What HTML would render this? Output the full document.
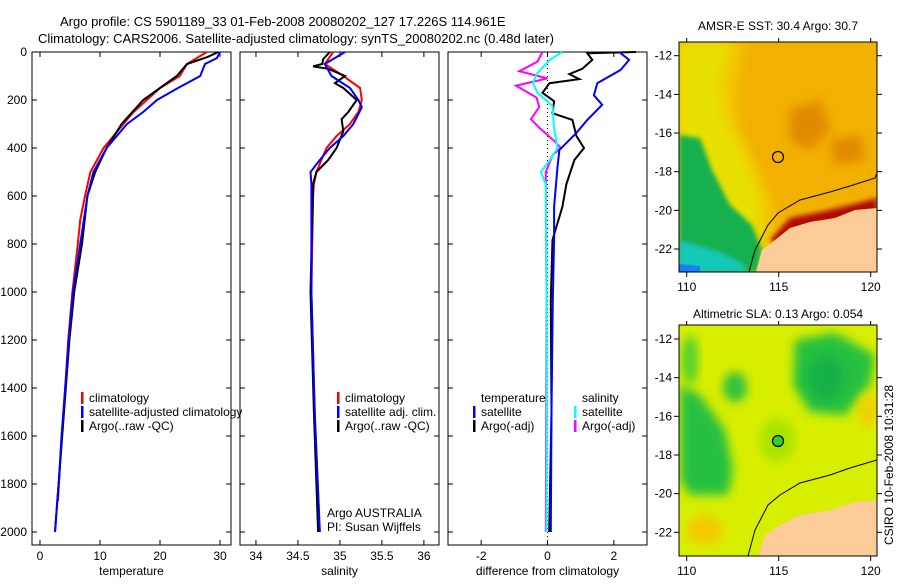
<!DOCTYPE html>
<html><head><meta charset="utf-8"><style>
body{margin:0;background:#fff;width:900px;height:580px;overflow:hidden}
svg text{font-family:"Liberation Sans",sans-serif;fill:#000}
</style></head><body>
<svg id="fig" width="900" height="580" xmlns="http://www.w3.org/2000/svg">
<defs>
<filter id="bl" x="-30%" y="-30%" width="160%" height="160%"><feGaussianBlur stdDeviation="5"/></filter>
<filter id="bl2"><feGaussianBlur stdDeviation="2.5"/></filter>
<clipPath id="c1"><rect x="679" y="42" width="198" height="230"/></clipPath>
<clipPath id="c2"><rect x="679" y="325" width="198" height="231"/></clipPath>
</defs>
<text x="60" y="26" font-size="13">Argo profile: CS 5901189_33 01-Feb-2008 20080202_127 17.226S 114.961E</text>
<text x="38" y="43" font-size="13">Climatology: CARS2006. Satellite-adjusted climatology: synTS_20080202.nc (0.48d later)</text>
<g id="panels"></g>
<!-- SST map -->
<g clip-path="url(#c1)">
<rect x="679" y="42" width="198" height="230" fill="#f2b000"/>
<path d="M679,42 L745,42 L735,90 L740,130 L760,170 L775,210 L770,272 L679,272Z" fill="#f2c800" filter="url(#bl)"/>
<path d="M679,42 L730,42 L720,80 L725,120 L745,160 L760,200 L760,272 L679,272Z" fill="#e8e000" filter="url(#bl)"/>
<path d="M790,110 L820,100 L830,130 L810,150 L790,140Z" fill="#e08a00" filter="url(#bl)"/>
<path d="M830,140 L860,135 L865,160 L835,165Z" fill="#e08a00" filter="url(#bl)"/>
<path d="M679,135 L700,138 L712,170 L730,205 L752,225 L762,250 L758,272 L679,272Z" fill="#18b050" filter="url(#bl2)"/>
<path d="M679,240 L720,252 L745,265 L745,272 L679,272Z" fill="#18c8b8" filter="url(#bl2)"/>
<path d="M679,264 L700,266 L700,272 L679,272Z" fill="#1880f0"/>
<path d="M770,240 L790,218 L820,212 L850,205 L877,198 L877,220 L820,230 L785,250Z" fill="#b01000" filter="url(#bl2)"/>
<path d="M756,272 L762,250 L775,240 L790,228 L810,222 L835,218 L855,210 L877,208 L877,272Z" fill="#fbcb98"/>
<path d="M749,272 L755,250 L768,225 L778,213 L800,200 L830,192 L850,186 L875,178 L877,173" fill="none" stroke="#000" stroke-width="1"/>
<circle cx="778" cy="157" r="5.5" fill="none" stroke="#000" stroke-width="1.2"/>
</g>
<rect x="679" y="42" width="198" height="230" fill="none" stroke="#000"/>
<text x="778" y="30" font-size="12" text-anchor="middle">AMSR-E SST: 30.4 Argo: 30.7</text>
<!-- SLA map -->
<g clip-path="url(#c2)">
<rect x="679" y="325" width="198" height="231" fill="#d8ee00"/>
<path d="M795,340 L835,333 L875,355 L870,385 L845,415 L810,412 L793,385Z" fill="#28c040" filter="url(#bl)"/>
<ellipse cx="826" cy="378" rx="18" ry="22" fill="#18b048" filter="url(#bl)"/>
<ellipse cx="735" cy="387" rx="12" ry="15" fill="#30c040" filter="url(#bl)"/>
<path d="M680,385 L700,395 L725,430 L733,470 L728,495 L690,495 L680,480Z" fill="#28c040" filter="url(#bl)"/>
<ellipse cx="690" cy="360" rx="8" ry="25" fill="#50d030" filter="url(#bl)"/>
<ellipse cx="777" cy="440" rx="18" ry="22" fill="#a8e400" filter="url(#bl)"/>
<ellipse cx="705" cy="530" rx="18" ry="14" fill="#f5c800" filter="url(#bl)"/>
<ellipse cx="868" cy="410" rx="10" ry="18" fill="#f0d000" filter="url(#bl)"/>
<path d="M758,556 L765,535 L780,525 L800,515 L830,510 L855,502 L877,500 L877,556Z" fill="#fbcb98"/>
<path d="M748,556 L755,530 L768,505 L780,495 L800,483 L830,475 L850,468 L877,460" fill="none" stroke="#000" stroke-width="1"/>
<circle cx="778" cy="441" r="5.5" fill="#30d030" stroke="#000" stroke-width="1.2"/>
</g>
<rect x="679" y="325" width="198" height="231" fill="none" stroke="#000"/>
<text x="778" y="318" font-size="12" text-anchor="middle">Altimetric SLA: 0.13 Argo: 0.054</text>
<g id="mapaxes"></g>
<text transform="translate(893,465) rotate(-90)" font-size="12" text-anchor="middle">CSIRO 10-Feb-2008 10:31:28</text>
</svg>
<script>
// temperature panel
const tDepth=[0,50,100,150,200,250,300,400,500,600,700,800,1000,1200,1400,1600,1870];
const tClim=[27.8,24.5,23.3,20.0,17.8,15.6,13.9,10.6,8.4,7.5,6.7,6.3,5.4,4.7,4.2,3.6,3.0];
const sDepthT=[0,25,50,100,150,200,250,300,400,500,600,800,1000,1200,1400,1600,1800,2000];
const tSat=[30.0,29.5,27.5,26.7,23.0,19.5,17.2,14.5,11.1,8.9,7.9,6.7,5.5,4.8,4.2,3.6,3.1,2.5];
const aDepthT=[0,20,50,100,150,200,300,400,500,600,800,1000,1200,1400,1600,1800,2000];
const tArgo=[29.7,28.0,24.5,22.8,20.0,17.2,13.6,11.1,9.2,7.9,7.0,5.7,4.9,4.3,3.7,3.1,2.5];
// salinity panel
const sClimD=[0,50,100,150,200,250,300,350,400,450,500,550,600,1000,1500,2000];
const sClim=[34.92,34.82,35.04,35.24,35.26,35.22,35.12,34.96,34.84,34.78,34.72,34.69,34.68,34.66,34.70,34.76];
const sSatD=[0,50,100,150,200,230,300,350,400,450,500,550,1000,1500,2000];
const sSat=[35.06,34.82,34.90,35.12,35.22,35.26,35.16,35.04,34.88,34.76,34.65,34.66,34.66,34.70,34.76];
const sArgoD=[0,30,50,60,70,100,130,150,200,250,280,330,400,450,500,550,1000,1500,2000];
const sArgo=[34.88,34.80,34.79,34.68,34.86,35.06,34.94,35.04,35.20,35.10,35.02,35.04,34.96,34.86,34.72,34.68,34.65,34.69,34.74];
// difference panel
const dTSatD=[0,33,75,130,180,220,283,337,408,479,645,783,1033,1500,2000];
const dTSat=[2.16,2.46,2.2,1.5,1.4,1.65,1.2,0.87,0.36,0.3,0.2,0.2,0.16,0.12,0.1];
const dTArgoD=[0,5,33,70,92,113,130,170,205,255,283,350,400,450,550,645,783,1033,1500,2000];
const dTArgo=[2.67,1.2,1.35,1.05,0.66,0.96,0.06,-0.15,0.2,0.15,0.75,0.87,1.1,0.81,0.57,0.45,0.15,0.1,0.12,0.05];
const dSSatD=[0,33,92,130,170,225,320,400,450,500,550,1000,1500,2000];
const dSSat=[0.44,0.07,-0.33,-0.44,-0.3,0.15,0.2,0.3,0.07,-0.2,-0.05,-0.03,-0.02,-0.03];
const dSArgoD=[0,40,80,110,140,190,230,280,315,370,400,430,500,1000,1500,2000];
const dSArgo=[-0.15,-0.3,-0.85,0,-0.95,-0.33,-0.25,-0.5,-0.25,0.2,0.4,0.15,-0.05,-0.03,-0.04,-0.05];
const depthTicks=[0,200,400,600,800,1000,1200,1400,1600,1800,2000];
const tTicks=[0,10,20,30], sTicks=[34,34.5,35,35.5,36], dTicks=[-2,0,2];

const NS='http://www.w3.org/2000/svg';
const root=document.getElementById('panels');
function mk(tag,attrs,parent){const e=document.createElementNS(NS,tag);for(const k in attrs)e.setAttribute(k,attrs[k]);(parent||root).appendChild(e);return e;}
const Y=d=>52+d*0.24;
const P0=52,P1=545;
function panel(x0,x1,vmin,vmax,ticks,label,name){
  const X=v=>x0+(v-vmin)/(vmax-vmin)*(x1-x0);
  const g=mk('g',{});
  
  
  mk('rect',{x:x0,y:P0,width:x1-x0,height:P1-P0,fill:'none',stroke:'#000'},g);
  ticks.forEach(t=>{const x=X(t);
    mk('line',{x1:x,x2:x,y1:P1,y2:P1-5,stroke:'#000'},g);mk('line',{x1:x,x2:x,y1:P0,y2:P0+5,stroke:'#000'},g);
    const tx=mk('text',{x:x,y:P1+15,'font-size':12,'text-anchor':'middle'},g);tx.textContent=t;
    
    });
  depthTicks.forEach(d=>{mk('line',{x1:x0,x2:x0+5,y1:Y(d),y2:Y(d),stroke:'#000'},g);mk('line',{x1:x1,x2:x1-5,y1:Y(d),y2:Y(d),stroke:'#000'},g);});
  const lb=mk('text',{x:(x0+x1)/2,y:575,'font-size':12,'text-anchor':'middle'},g);lb.textContent=label;
  
  
  return {X,g};
}
function line(p,ds,vs,col,name){
  const pts=ds.map((d,i)=>p.X(vs[i]).toFixed(1)+','+Y(d).toFixed(1)).join(' ');
  const pl=mk('polyline',{points:pts,fill:'none',stroke:col,'stroke-width':2},p.g);
  
  
}
function leg(p,x,y,col,txt){
  mk('rect',{x:x,y:y-10,width:2.5,height:12,fill:col},p.g);
  const t=mk('text',{x:x+8,y:y,'font-size':12},p.g);t.textContent=txt;
  
  
}
depthTicks.forEach(d=>{const t=mk('text',{x:27,y:Y(d)+4,'font-size':12,'text-anchor':'end'});t.textContent=d;
  
  });

const pT=panel(32,231,-1.33,31.83,tTicks,'temperature','temperature-panel');
line(pT,tDepth,tClim,'#f00','temp-climatology-line');
line(pT,aDepthT,tArgo,'#000','temp-argo-line');
line(pT,sDepthT,tSat,'#00f','temp-satellite-line');
leg(pT,81,402,'#f00','climatology');leg(pT,81,416,'#00f','satellite-adjusted climatology');leg(pT,81,430,'#000','Argo(..raw -QC)');

const pS=panel(240,439,33.81,36.18,sTicks,'salinity','salinity-panel');
line(pS,sClimD,sClim,'#f00','sal-climatology-line');
line(pS,sArgoD,sArgo,'#000','sal-argo-line');
line(pS,sSatD,sSat,'#00f','sal-satellite-line');
leg(pS,337,402,'#f00','climatology');leg(pS,337,416,'#00f','satellite adj. clim.');leg(pS,337,430,'#000','Argo(..raw -QC)');
const a1=mk('text',{x:327,y:517,'font-size':12},pS.g);a1.textContent='Argo AUSTRALIA';
const a2=mk('text',{x:327,y:531,'font-size':12},pS.g);a2.textContent='PI: Susan Wijffels';

const pD=panel(448,647,-3,3,dTicks,'difference from climatology','difference-panel');
mk('line',{x1:pD.X(0),x2:pD.X(0),y1:P0,y2:P1,stroke:'#000','stroke-dasharray':'1,3'},pD.g);
line(pD,dSArgoD,dSArgo,'#f0f','sal-argo-diff-line');
line(pD,dTArgoD,dTArgo,'#000','temp-argo-diff-line');
line(pD,dTSatD,dTSat,'#00f','temp-satellite-diff-line');
line(pD,dSSatD,dSSat,'#0ff','sal-satellite-diff-line');
const h1=mk('text',{x:481,y:402,'font-size':12},pD.g);h1.textContent='temperature';
const h2=mk('text',{x:582,y:402,'font-size':12},pD.g);h2.textContent='salinity';
leg(pD,473,416,'#00f','satellite');leg(pD,473,430,'#000','Argo(-adj)');
leg(pD,574,416,'#0ff','satellite');leg(pD,574,430,'#f0f','Argo(-adj)');

const ma=document.getElementById('mapaxes');
const lonTicks=[110,115,120], latTicks=[-12,-14,-16,-18,-20,-22];
function mapAx(top,bot,lat12){
  const LX=l=>686.7+(l-110)*18.4, LY=la=>lat12+(-12-la)*19.33;
  lonTicks.forEach(l=>{mk('line',{x1:LX(l),x2:LX(l),y1:bot,y2:bot+5,stroke:'#000'},ma);mk('line',{x1:LX(l),x2:LX(l),y1:top,y2:top-4,stroke:'#000'},ma);
    const t=mk('text',{x:LX(l),y:bot+19,'font-size':12,'text-anchor':'middle'},ma);t.textContent=l;
    
    });
  latTicks.forEach(la=>{mk('line',{x1:674,x2:679,y1:LY(la),y2:LY(la),stroke:'#000'},ma);mk('line',{x1:877,x2:882,y1:LY(la),y2:LY(la),stroke:'#000'},ma);
    const t=mk('text',{x:672,y:LY(la)+4,'font-size':12,'text-anchor':'end'},ma);t.textContent=la;
    
    });
}
mapAx(42,272,55.7);
mapAx(325,556,339);
</script>
</body></html>
